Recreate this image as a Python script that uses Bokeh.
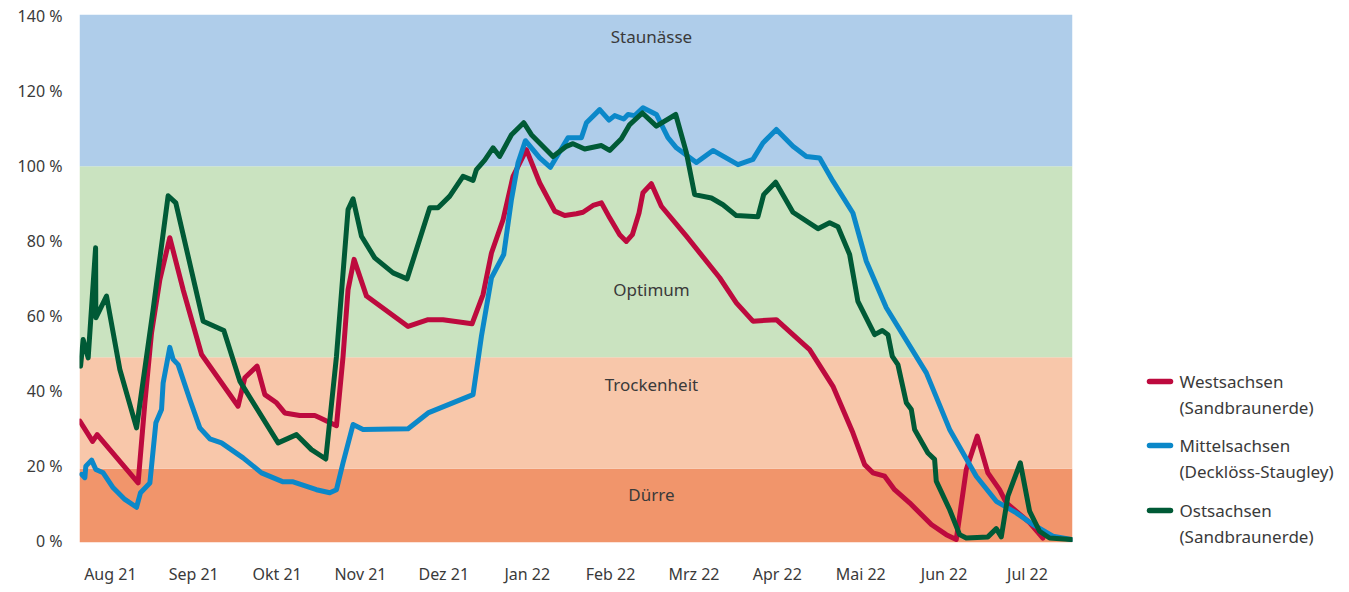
from bokeh.plotting import figure
from bokeh.layouts import row, column
from bokeh.models import Range1d, FixedTicker, PrintfTickFormatter, BoxAnnotation
from bokeh.core.properties import value
from bokeh.embed import file_html
from bokeh.resources import INLINE

FONT = "Noto Sans"
TXT = "#3a3a3a"

# ---------------- data ----------------
months = ["Aug 21", "Sep 21", "Okt 21", "Nov 21", "Dez 21", "Jan 22",
          "Feb 22", "Mrz 22", "Apr 22", "Mai 22", "Jun 22", "Jul 22"]

# x = month index (0 = Aug 21), y = percent
west_x = [-0.366, -0.213, -0.158, 0.333, 0.414, 0.494, 0.594, 0.713, 0.873, 1.094,
          1.532, 1.613, 1.760, 1.853, 1.993, 2.092, 2.272, 2.452, 2.512, 2.712,
          2.791, 2.851, 2.923, 3.072, 3.571, 3.811, 3.990, 4.338, 4.470, 4.571,
          4.710, 4.830, 4.990, 5.150, 5.330, 5.450, 5.590, 5.669, 5.789, 5.890,
          5.989, 6.109, 6.189, 6.261, 6.341, 6.388, 6.489, 6.609, 6.909, 7.308,
          7.508, 7.707, 7.988, 8.187, 8.387, 8.667, 8.906, 9.047, 9.146, 9.287,
          9.406, 9.586, 9.847, 10.026, 10.146, 10.266, 10.398, 10.525, 10.665, 10.746,
          11.025, 11.185]
west_y = [31.9, 26.5, 28.3, 15.4, 36.8, 55.5, 69.7, 80.9, 67.0, 49.7,
          35.9, 43.5, 46.6, 39.0, 36.8, 34.1, 33.4, 33.4, 32.8, 30.7,
          49.2, 67.0, 75.1, 65.3, 57.2, 59.0, 59.0, 57.9, 65.7, 76.8,
          85.7, 97.3, 104.4, 95.5, 88.0, 86.8, 87.3, 87.7, 89.5, 90.2,
          86.2, 81.7, 79.9, 81.7, 87.5, 92.9, 95.3, 89.3, 81.3, 70.2,
          63.5, 58.6, 59.0, 55.0, 51.0, 41.2, 28.8, 20.3, 18.1, 17.2,
          13.6, 10.1, 4.3, 1.6, 0.3, 19.0, 27.9, 18.1, 13.6, 10.1,
          4.8, 0.7]

mittel_x = [-0.345, -0.306, -0.294, -0.225, -0.174, -0.086, 0.034, 0.174, 0.314, 0.362,
            0.474, 0.546, 0.614, 0.633, 0.713, 0.753, 0.813, 0.953, 1.073, 1.193,
            1.333, 1.592, 1.813, 2.072, 2.192, 2.472, 2.632, 2.712, 2.791, 2.911,
            3.031, 3.571, 3.811, 4.350, 4.451, 4.571, 4.718, 4.811, 4.890, 4.978,
            5.150, 5.278, 5.489, 5.650, 5.710, 5.869, 5.981, 6.049, 6.157, 6.209,
            6.289, 6.388, 6.549, 6.688, 6.789, 7.029, 7.228, 7.528, 7.707, 7.827,
            7.988, 8.187, 8.348, 8.507, 8.667, 8.906, 9.067, 9.307, 9.787, 10.066,
            10.386, 10.626, 10.866, 11.065, 11.305, 11.525]
mittel_y = [17.7, 16.8, 19.9, 21.5, 19.0, 18.1, 14.1, 11.0, 8.9, 12.8,
            15.4, 31.5, 35.0, 42.1, 51.6, 48.4, 47.0, 37.7, 30.1, 27.2,
            26.1, 22.1, 18.1, 15.7, 15.7, 13.6, 12.8, 13.6, 20.8, 31.0,
            29.7, 29.9, 34.1, 39.0, 54.6, 70.2, 76.4, 91.1, 100.9, 106.8,
            102.2, 99.7, 107.6, 107.6, 111.6, 115.1, 112.3, 113.5, 112.6, 113.8,
            113.5, 115.6, 113.8, 107.6, 104.9, 101.0, 104.2, 100.4, 101.8, 106.2,
            109.8, 105.3, 102.6, 102.2, 96.0, 87.5, 74.6, 62.2, 44.8, 29.7,
            17.2, 10.5, 7.4, 4.3, 1.2, 0.3]

ost_x = [-0.357, -0.326, -0.266, -0.177, -0.174, -0.046, 0.114, 0.314, 0.513, 0.693,
         0.785, 1.113, 1.361, 1.553, 2.012, 2.233, 2.412, 2.584, 2.712, 2.851,
         2.911, 3.012, 3.171, 3.391, 3.559, 3.831, 3.930, 4.071, 4.230, 4.350,
         4.391, 4.490, 4.590, 4.670, 4.811, 4.958, 5.050, 5.309, 5.470, 5.549,
         5.689, 5.890, 5.989, 6.129, 6.229, 6.381, 6.549, 6.781, 6.909, 7.008,
         7.209, 7.348, 7.508, 7.767, 7.836, 7.980, 8.187, 8.487, 8.627, 8.727,
         8.867, 8.966, 9.167, 9.259, 9.327, 9.379, 9.446, 9.547, 9.607, 9.646,
         9.806, 9.886, 9.906, 10.066, 10.186, 10.266, 10.525, 10.626, 10.686, 10.765,
         10.914, 11.025, 11.145, 11.265, 11.525]
ost_y = [46.6, 53.7, 48.8, 78.2, 59.5, 65.3, 45.7, 30.1, 61.7, 92.1,
         90.2, 58.6, 56.1, 42.6, 26.1, 28.3, 24.3, 21.8, 49.2, 88.4,
         91.3, 81.3, 75.5, 71.5, 69.9, 88.9, 88.9, 92.0, 97.3, 96.2,
         99.1, 101.6, 104.9, 102.6, 108.4, 111.6, 108.4, 102.6, 105.3, 106.0,
         104.6, 105.5, 104.2, 107.3, 111.1, 114.2, 110.7, 113.8, 103.6, 92.4,
         91.5, 89.7, 86.8, 86.5, 92.4, 95.7, 87.7, 83.3, 84.9, 83.8,
         76.4, 63.9, 55.0, 56.1, 55.0, 49.2, 47.0, 36.8, 35.0, 29.7,
         23.4, 21.7, 15.9, 8.3, 1.6, 0.7, 1.0, 3.2, 1.0, 11.9,
         20.8, 7.9, 2.5, 0.7, 0.3]

band_names = ["Dürre", "Trockenheit", "Optimum", "Staunässe"]
band_lower = [None, 19.2, 49.0, 100.0]
band_upper = [19.2, 49.0, 100.0, None]
band_label_y = [12.3, 41.7, 67.1, 134.6]
band_colors = ["#f1956b", "#f8c7aa", "#cae3c0", "#afcdea"]

series_names = ["Westsachsen", "Mittelsachsen", "Ostsachsen"]
series_soils = ["(Sandbraunerde)", "(Decklöss-Staugley)", "(Sandbraunerde)"]
series_colors = ["#bd0a3e", "#0b88c9", "#005a36"]
y_ticks = [0, 20, 40, 60, 80, 100, 120, 140]

# ---------------- main chart ----------------
p = figure(width=1084, height=587,
           x_range=Range1d(-0.37, 11.54), y_range=Range1d(-0.5, 140.5),
           output_backend="svg", toolbar_location=None,
           min_border_left=79, min_border_right=12, min_border_top=14, min_border_bottom=45)
p.outline_line_color = None
p.xgrid.visible = False
p.ygrid.visible = False
p.background_fill_color = "white"
p.border_fill_color = "white"

for lo, hi, col in zip(band_lower, band_upper, band_colors):
    p.add_layout(BoxAnnotation(bottom=lo, top=hi, fill_color=col, fill_alpha=1.0,
                               line_color=None, level="underlay"))

p.text(x=[6.49] * len(band_names), y=band_label_y, text=band_names,
       text_font=value(FONT), text_font_size="17px", text_color=TXT,
       text_align="center", text_baseline="middle")

for xs, ys, col in [(west_x, west_y, series_colors[0]),
                    (mittel_x, mittel_y, series_colors[1]),
                    (ost_x, ost_y, series_colors[2])]:
    p.line(xs, ys, line_color=col, line_width=5, line_join="round", line_cap="round")

p.yaxis.ticker = FixedTicker(ticks=y_ticks)
p.yaxis.formatter = PrintfTickFormatter(format="%d %%")
p.xaxis.ticker = FixedTicker(ticks=list(range(len(months))))
p.xaxis.major_label_overrides = {i: m for i, m in enumerate(months)}
for ax in (p.xaxis, p.yaxis):
    ax.axis_line_color = None
    ax.major_tick_line_color = None
    ax.minor_tick_line_color = None
    ax.major_tick_out = 0
    ax.major_tick_in = 0
    ax.major_label_text_font = FONT
    ax.major_label_text_font_size = "16px"
    ax.major_label_text_color = TXT
p.yaxis.major_label_standoff = 17
p.xaxis.major_label_standoff = 20

# ---------------- legend panel (own frame; y in page px) ----------------
lg = figure(width=256, height=587, x_range=Range1d(0, 256), y_range=Range1d(588, 1),
            output_backend="svg", toolbar_location=None, min_border=0)
lg.axis.visible = False
lg.xgrid.visible = False
lg.ygrid.visible = False
lg.outline_line_color = None

row_y = [382, 446, 511]
lg.segment(x0=[65] * 3, y0=row_y, x1=[86] * 3, y1=row_y, line_color=series_colors,
           line_width=5.5, line_cap="round")
lg.text(x=[95] * 3, y=row_y, text=series_names, text_font=value(FONT),
        text_font_size="17px", text_color=TXT, text_baseline="middle")
lg.text(x=[95] * 3, y=[yy + 26 for yy in row_y], text=series_soils, text_font=value(FONT),
        text_font_size="17px", text_color=TXT, text_baseline="middle")

layout = row(p, column(lg), spacing=0)
open("out.html", "w").write(file_html(layout, INLINE))
